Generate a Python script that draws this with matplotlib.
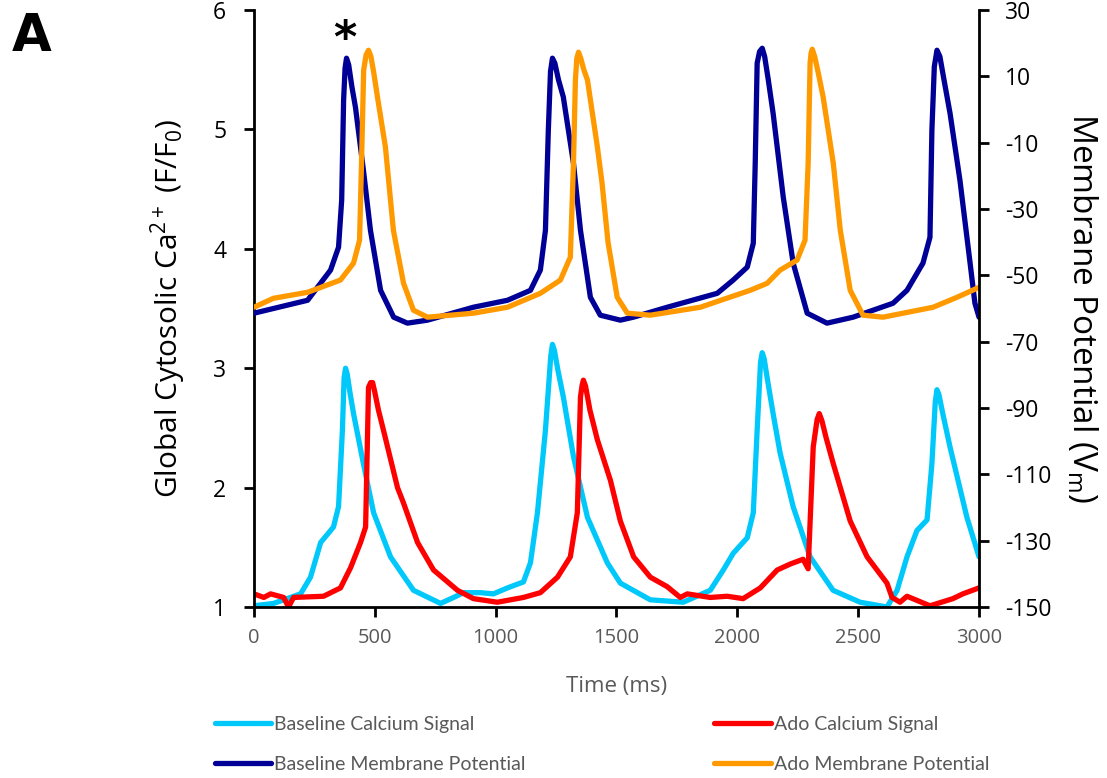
import matplotlib
matplotlib.use("Agg")
import matplotlib.pyplot as plt

plt.rcParams['font.family'] = ['Open Sans', 'DejaVu Sans']
plt.rcParams['axes.unicode_minus'] = False

# Baseline membrane potential (mV, right axis)
t_vb = [0, 222, 317, 350, 363, 371, 377, 383, 392, 405, 420, 453, 482, 524, 578, 635, 718, 908, 1049,
        1144, 1185, 1206, 1218, 1227, 1235, 1245, 1260, 1280, 1322, 1351, 1392, 1433, 1516, 1570, 1710,
        1917, 1983, 2041, 2066, 2074, 2082, 2092, 2103, 2113, 2128, 2148, 2190, 2231, 2289, 2371, 2479,
        2644, 2702, 2768, 2797, 2805, 2815, 2826, 2838, 2855, 2880, 2921, 2963, 2983, 3000]
v_base = [-61.4, -57.5, -48.4, -41.5, -27.3, 2.9, 12.5, 15.5, 13.5, 7.0, 0.7, -18.3, -36.4, -54.5,
          -62.6, -64.4, -63.5, -59.6, -57.5, -54.5, -48.4, -36.4, -6.2, 11.5, 15.5, 14.0, 9.0, 3.8,
          -16.2, -36.4, -56.6, -62.0, -63.5, -62.6, -59.6, -55.4, -51.4, -47.5, -40.3, -16.2, 14.0,
          17.5, 18.5, 16.0, 9.0, -1.1, -26.4, -46.3, -61.4, -64.4, -62.6, -58.4, -54.5, -46.3, -38.5,
          -6.2, 13.0, 17.9, 16.0, 9.0, -1.1, -21.3, -46.3, -58.4, -62.6]

# Ado membrane potential (mV, right axis)
t_va = [0, 81, 222, 358, 412, 437, 445, 454, 464, 474, 484, 496, 511, 544, 577, 619, 660, 718, 908,
        1049, 1185, 1268, 1309, 1322, 1330, 1336, 1343, 1352, 1365, 1380, 1421, 1440, 1465, 1503, 1545,
        1640, 1847, 2053, 2123, 2177, 2247, 2280, 2293, 2301, 2305, 2310, 2320, 2335, 2355, 2397, 2426,
        2467, 2520, 2603, 2810, 2909, 3000]
v_ado = [-59.6, -56.9, -55.1, -51.4, -46.3, -39.4, -16.2, 11.9, 16.5, 17.9, 16.0, 11.0, 3.8, -11.3,
         -36.4, -52.4, -60.5, -62.6, -61.4, -59.6, -55.4, -51.4, -44.5, -16.2, 8.9, 15.5, 17.3, 15.5,
         12.0, 8.9, -11.3, -22.0, -40.0, -56.6, -61.4, -62.0, -59.6, -54.5, -52.4, -48.4, -45.4, -39.4,
         -16.2, 14.0, 17.0, 18.2, 16.0, 11.0, 3.8, -16.2, -36.4, -54.5, -62.0, -62.6, -59.6, -56.6,
         -53.6]

# Baseline calcium signal (F/F0, left axis)
t_cb = [0, 81, 193, 234, 276, 329, 350, 366, 373, 379, 386, 397, 412, 453, 495, 565, 660, 772, 826,
        867, 937, 991, 1049, 1115, 1144, 1173, 1206, 1228, 1235, 1243, 1258, 1280, 1322, 1380, 1462,
        1516, 1640, 1776, 1888, 1942, 1983, 2041, 2066, 2082, 2096, 2103, 2111, 2125, 2148, 2177, 2231,
        2301, 2396, 2508, 2619, 2661, 2702, 2743, 2785, 2805, 2819, 2826, 2834, 2850, 2880, 2950, 3000]
ca_base = [1.01, 1.03, 1.11, 1.25, 1.54, 1.67, 1.84, 2.48, 2.92, 3.00, 2.95, 2.80, 2.62, 2.20, 1.79,
           1.42, 1.14, 1.03, 1.08, 1.12, 1.12, 1.11, 1.16, 1.21, 1.37, 1.79, 2.48, 3.10, 3.20, 3.15,
           2.98, 2.76, 2.26, 1.75, 1.37, 1.20, 1.06, 1.04, 1.14, 1.31, 1.45, 1.58, 1.79, 2.48, 3.05,
           3.13, 3.08, 2.90, 2.62, 2.29, 1.84, 1.42, 1.14, 1.04, 1.00, 1.14, 1.42, 1.64, 1.73, 2.20,
           2.72, 2.82, 2.78, 2.62, 2.34, 1.75, 1.42]

# Ado calcium signal (F/F0, left axis)
t_ca = [0, 41, 69, 123, 143, 164, 288, 358, 400, 441, 462, 474, 483, 491, 500, 515, 536, 594, 619, 677,
        743, 842, 908, 1007, 1115, 1185, 1256, 1309, 1338, 1351, 1358, 1363, 1372, 1390, 1421, 1475,
        1516, 1571, 1640, 1710, 1764, 1793, 1888, 1958, 2024, 2095, 2165, 2219, 2272, 2293, 2314, 2330,
        2339, 2350, 2367, 2397, 2467, 2537, 2619, 2640, 2673, 2702, 2797, 2892, 2933, 3000]
ca_ado = [1.11, 1.08, 1.11, 1.08, 1.00, 1.08, 1.09, 1.16, 1.33, 1.54, 1.67, 2.84, 2.88, 2.88, 2.80,
          2.65, 2.48, 2.00, 1.87, 1.54, 1.31, 1.14, 1.07, 1.04, 1.08, 1.12, 1.25, 1.42, 1.79, 2.76,
          2.86, 2.90, 2.85, 2.65, 2.40, 2.06, 1.72, 1.42, 1.25, 1.17, 1.08, 1.11, 1.08, 1.09, 1.07,
          1.16, 1.31, 1.36, 1.40, 1.32, 2.34, 2.57, 2.62, 2.56, 2.42, 2.20, 1.72, 1.42, 1.20, 1.08,
          1.04, 1.09, 1.01, 1.07, 1.11, 1.16]

x_ticks = [0, 500, 1000, 1500, 2000, 2500, 3000]
left_ticks = [1, 2, 3, 4, 5, 6]
right_ticks = [30, 10, -10, -30, -50, -70, -90, -110, -130, -150]

c_cyan = '#00C8FA'
c_red = '#FF0000'
c_blue = '#000096'
c_orange = '#FF9900'
grey = '#595959'

fig = plt.figure(figsize=(11.07, 7.78), dpi=100)
ax = fig.add_axes([0.2294, 0.2198, 0.6550, 0.7672])
ax2 = ax.twinx()

lw = 3.8
l1, = ax.plot(t_cb, ca_base, color=c_cyan, lw=lw, solid_capstyle='round', solid_joinstyle='round', label='Baseline Calcium Signal')
l2, = ax.plot(t_ca, ca_ado, color=c_red, lw=lw, solid_capstyle='round', solid_joinstyle='round', label='Ado Calcium Signal')
l3, = ax2.plot(t_vb, v_base, color=c_blue, lw=lw, solid_capstyle='round', solid_joinstyle='round', label='Baseline Membrane Potential')
l4, = ax2.plot(t_va, v_ado, color=c_orange, lw=lw, solid_capstyle='round', solid_joinstyle='round', label='Ado Membrane Potential')

ax.set_xlim(0, 3000)
ax.set_ylim(1, 6)
ax2.set_ylim(-150, 30)
ax.set_xticks(x_ticks)
ax.set_yticks(left_ticks)
ax2.set_yticks(right_ticks)

for a in (ax, ax2):
    for s in a.spines.values():
        s.set_linewidth(2)
        s.set_color('black')
    a.spines['top'].set_visible(False)
ax.spines['right'].set_visible(False)
ax2.spines['left'].set_visible(False)
ax2.spines['bottom'].set_visible(False)

ax.tick_params(axis='y', direction='out', length=7, width=2, labelsize=16.5, pad=13)
ax.tick_params(axis='x', direction='out', length=7, width=2, labelsize=14.5, labelcolor=grey, pad=8)
ax2.tick_params(axis='y', direction='out', length=7, width=2, labelsize=16.5, pad=12)

ax.set_xlabel('Time (ms)', fontsize=16, color=grey, labelpad=20)
ax.set_ylabel(r'Global Cytosolic Ca$\mathregular{^{2+}}$ (F/F$\mathregular{_0}$)', fontsize=21.5,
              labelpad=18)
ax2.set_ylabel(r'Membrane Potential (V$\mathregular{_m}$)', fontsize=24, rotation=270, labelpad=34)

fig.text(0.011, 0.935, 'A', fontsize=37, fontweight='bold', family='DejaVu Sans')
ax.text(375, 5.75, '*', fontsize=32, fontweight='bold', ha='center', va='center', family='DejaVu Sans')

leg = fig.legend(handles=[l1, l3, l2, l4], ncol=2, loc='upper left', bbox_to_anchor=(0.187, 0.090),
                 borderaxespad=0, frameon=False, prop={'family': 'Lato', 'size': 14},
                 handlelength=2.9, handletextpad=0.15, columnspacing=9.7, labelspacing=1.2)
for txt in leg.get_texts():
    txt.set_color(grey)

fig.savefig('out.png', dpi=100)
